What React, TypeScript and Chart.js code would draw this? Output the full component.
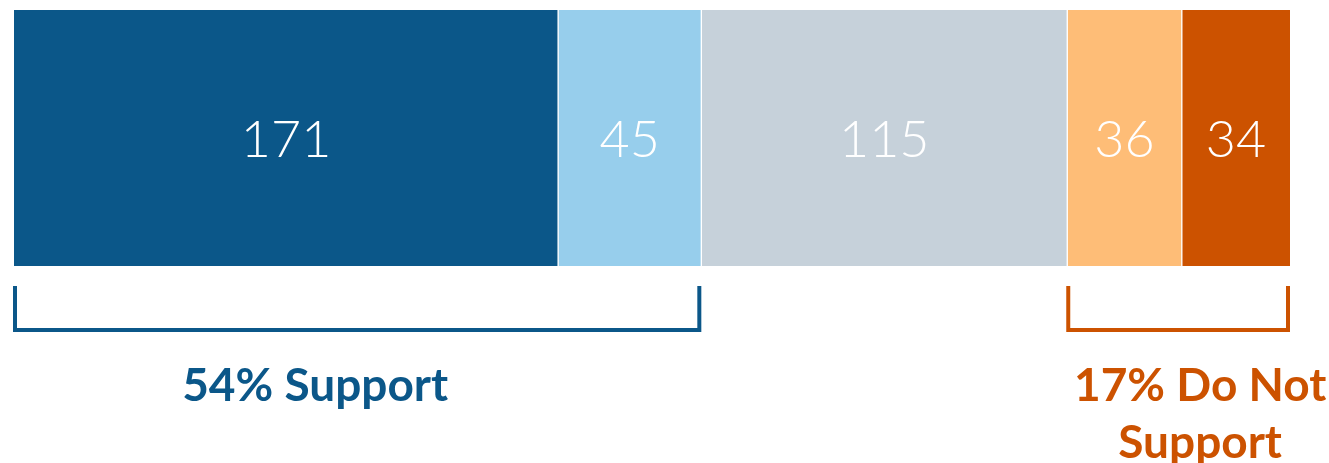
import React, { useEffect, useRef } from "react";
import { Chart, registerables } from "chart.js";

Chart.register(...registerables);

const categories = ["Responses"];
const segmentNames = ["Strongly support", "Somewhat support", "Neutral", "Somewhat oppose", "Strongly oppose"];
const segmentValues = [171, 45, 115, 36, 34];
const segmentColors = ["#0B5789", "#97CEEC", "#C6D1DA", "#FEBD77", "#CC5200"];

const groupStartIndex = [0, 3];
const groupEndIndex = [1, 4];
const groupLabels = [["54% Support"], ["17% Do Not", "Support"]];
const groupColors = ["#0B5789", "#CC5200"];
const groupLabelShift = [-42, 22];

const total = segmentValues.reduce((a, b) => a + b, 0);

const overlayPlugin = {
  id: "overlay",
  afterDatasetsDraw(chart: any) {
    const ctx = chart.ctx;
    ctx.save();
    ctx.fillStyle = "#FFFFFF";
    ctx.font = "300 52px Lato, 'Open Sans', sans-serif";
    ctx.textAlign = "center";
    ctx.textBaseline = "middle";
    segmentValues.forEach((v, i) => {
      const el = chart.getDatasetMeta(i).data[0];
      if (!el) return;
      const cx = (el.x + el.base) / 2;
      ctx.fillText(String(v), cx, el.y + 2);
    });
    groupLabels.forEach((lines, g) => {
      const s = chart.getDatasetMeta(groupStartIndex[g]).data[0];
      const e = chart.getDatasetMeta(groupEndIndex[g]).data[0];
      const x0 = Math.min(s.base, s.x) + 1;
      const x1 = Math.max(e.base, e.x) - 2;
      const top = 286;
      const bottom = 330;
      ctx.strokeStyle = groupColors[g];
      ctx.lineWidth = 4;
      ctx.lineCap = "butt";
      ctx.lineJoin = "miter";
      ctx.beginPath();
      ctx.moveTo(x0, top);
      ctx.lineTo(x0, bottom);
      ctx.lineTo(x1, bottom);
      ctx.lineTo(x1, top);
      ctx.stroke();
      ctx.fillStyle = groupColors[g];
      ctx.font = "bold 46px Lato, 'Open Sans', sans-serif";
      ctx.textAlign = "center";
      ctx.textBaseline = "alphabetic";
      const cx = (x0 + x1) / 2 + groupLabelShift[g];
      lines.forEach((line, li) => {
        ctx.fillText(line, cx, 401 + li * 57);
      });
    });
    ctx.restore();
  },
};

export default function App() {
  const ref = useRef<HTMLCanvasElement>(null);
  useEffect(() => {
    if (!ref.current) return;
    const chart = new Chart(ref.current, {
      type: "bar",
      data: {
        labels: categories,
        datasets: segmentValues.map((v, i) => ({
          label: segmentNames[i],
          data: [v],
          backgroundColor: segmentColors[i],
          borderColor: "#FFFFFF",
          borderWidth: { left: i === 0 ? 0 : 1, right: i === segmentValues.length - 1 ? 0 : 1, top: 0, bottom: 0 },
          borderSkipped: false,
          categoryPercentage: 1,
          barPercentage: 1,
        })),
      },
      options: {
        indexAxis: "y",
        animation: false,
        responsive: false,
        maintainAspectRatio: false,
        layout: { padding: { left: 14, right: 39, top: 10, bottom: 197 } },
        plugins: { legend: { display: false }, tooltip: { enabled: false } },
        scales: {
          x: { stacked: true, display: false, min: 0, max: total },
          y: { stacked: true, display: false },
        },
      },
      plugins: [overlayPlugin],
    } as any);
    return () => chart.destroy();
  }, []);
  return (
    <div style={{ position: "fixed", left: 0, top: 0, width: 1329, height: 463, background: "#fff" }}>
      <canvas ref={ref} width={1329} height={463} style={{ width: 1329, height: 463 }} />
    </div>
  );
}
